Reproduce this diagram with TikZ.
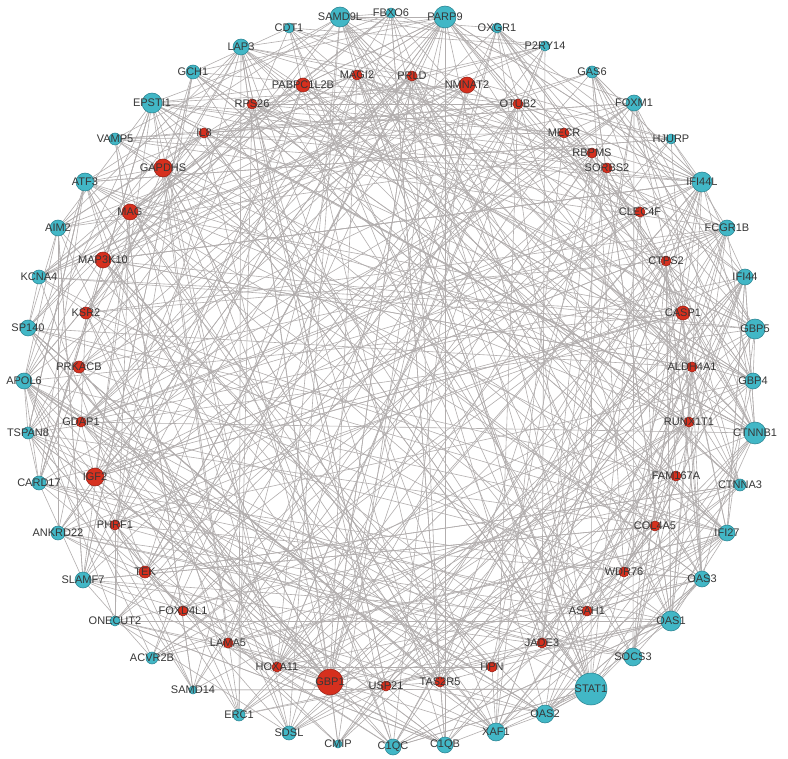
\documentclass[tikz,border=0pt]{standalone}
\usepackage{fontspec}
\setmainfont{Liberation Sans}
\definecolor{cyanfill}{RGB}{66,183,198}
\definecolor{cyanline}{RGB}{38,128,142}
\definecolor{redfill}{RGB}{214,48,30}
\definecolor{redline}{RGB}{150,30,20}
\definecolor{edgecol}{RGB}{178,174,174}
\definecolor{labcol}{RGB}{55,55,55}
\tikzset{
  edge/.style={draw=edgecol, line width=0.6pt},
  lbl/.style={inner sep=0pt, text=labcol, font=\fontsize{11}{13}\selectfont},
  nc/.style={circle, inner sep=0pt, fill=cyanfill, draw=cyanline, line width=0.5pt},
  nr/.style={circle, inner sep=0pt, fill=redfill, draw=redline, line width=0.5pt}
}
\def\nodelist{340/17/10/c/SAMD9L/15,
391/13/5/c/FBXO6/4,
445/17/11/c/PARP9/19,
497/28/5/c/OXGR1/4,
545/46/5/c/P2RY14/6,
592/72/6/c/GAS6/7,
634/103/8/c/FOXM1/11,
671/139/5/c/HJURP/4,
702/182/10/c/IFI44L/15,
727/228/8/c/FCGR1B/11,
745/277/8/c/IFI44/11,
755/329/10/c/GBP5/15,
753/381/8/c/GBP4/11,
755/433/11/c/CTNNB1/15,
740/485/6/c/CTNNA3/6,
727/533/8/c/IFI27/11,
702/579/8/c/OAS3/11,
671/621/10/c/OAS1/15,
633/657/9/c/SOCS3/11,
591/689/16/c/STAT1/24,
545/714/9/c/OAS2/11,
496/732/9/c/XAF1/11,
445/745/8/c/C1QB/9,
393/747/8/c/C1QC/9,
338/744/4/c/CMIP/3,
289/733/7/c/SDSL/7,
239/715/6/c/ERC1/5,
193/690/4/c/SAMD14/3,
152/658/6/c/ACVR2B/5,
115/621/5/c/ONECUT2/4,
83/580/8/c/SLAMF7/11,
58/533/7/c/ANKRD22/9,
39/483/7/c/CARD17/7,
28/433/6/c/TSPAN8/7,
24/381/8/c/APOL6/11,
28/328/8/c/SP140/9,
39/277/7/c/KCNA4/7,
58/228/8/c/AIM2/9,
85/182/9/c/ATF3/13,
115/139/6/c/VAMP5/5,
152/103/10/c/EPSTI1/15,
193/72/7/c/GCH1/9,
241/47/8/c/LAP3/11,
289/28/5/c/CDT1/5,
357/75/5/r/MAGI2/5,
303/85/7/r/PABPC1L2B/6,
252/104/5/r/RPS26/5,
204/133/5/r/IL8/4,
163/168/9/r/GAPDHS/7,
130/212/8/r/MAG/7,
103/260/8/r/MAP3K10/9,
86/313/6/r/KSR2/5,
79/367/6/r/PRKACB/7,
81/422/5/r/GDAP1/4,
95/477/9/r/IGF2/9,
115/525/5/r/PHRF1/4,
145/572/6/r/TEK/5,
183/611/5/r/FOXD4L1/4,
228/643/5/r/LAMA5/4,
277/667/5/r/HOXA11/5,
330/682/13/r/GBP1/22,
386/686/5/r/USP21/4,
440/682/5/r/TAS2R5/4,
492/667/5/r/HPN/4,
542/643/5/r/JADE3/5,
587/611/5/r/ASAH1/5,
624/572/5/r/WDR76/4,
655/526/5/r/COL4A5/4,
676/476/5/r/FAM167A/4,
689/422/5/r/RUNX1T1/4,
692/367/5/r/ALDH4A1/4,
683/313/7/r/CASP1/7,
666/261/5/r/CTPS2/4,
640/212/5/r/CLEC4F/4,
607/168/5/r/SORBS2/4,
592/153/5/r/RBPMS/4,
564/133/5/r/MECR/4,
518/104/5/r/OTUB2/4,
467/85/8/r/NMNAT2/7,
412/76/5/r/PRLD/4}
\begin{document}
\begin{tikzpicture}[x=1pt,y=-1pt]
\useasboundingbox (0,0) rectangle (788,759);
\fill[white] (0,0) rectangle (788,759);
% anchor coordinates
\foreach [count=\i] \x/\y/\rad/\col/\lab/\dg in \nodelist {
  \coordinate (n\i) at (\x,\y);
}
% connectors
\pgfmathsetseed{2718}
\foreach [count=\i] \x/\y/\rad/\col/\lab/\dg in \nodelist {
  \foreach \k in {1,...,\dg} {
    \pgfmathrandominteger{\j}{1}{80}
    \draw[edge] (n\i) -- (n\j);
  }
}
% circles
\foreach [count=\i] \x/\y/\rad/\col/\lab/\dg in \nodelist {
  \pgfmathsetmacro\dia{2*\rad}
  \node[n\col, minimum size=\dia pt] (c\i) at (\x,\y) {};
}
% labels
\foreach [count=\i] \x/\y/\rad/\col/\lab/\dg in \nodelist {
  \node[lbl] (l\i) at (\x,\y) {\lab};
}
\end{tikzpicture}
\end{document}
